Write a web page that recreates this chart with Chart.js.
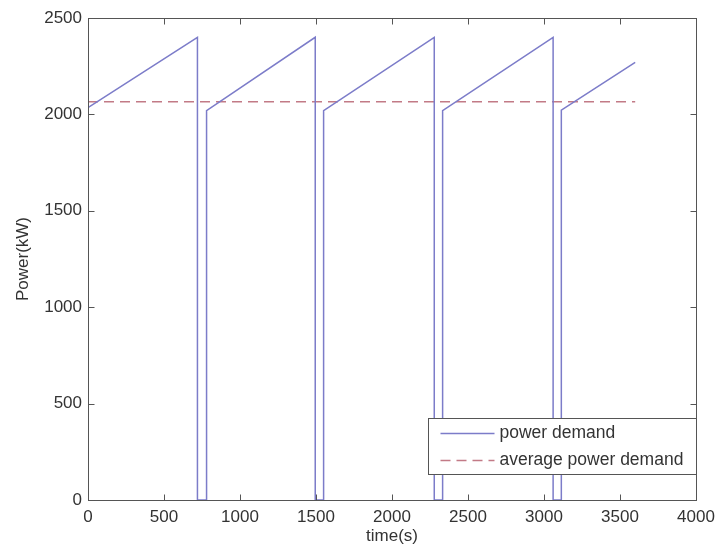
<!DOCTYPE html>
<html>
<head>
<meta charset="utf-8">
<script src="https://cdn.jsdelivr.net/npm/chart.js@4.4.1/dist/chart.umd.min.js"></script>
<style>
html, body { margin: 0; padding: 0; background: #fff; }
#wrap { width: 718px; height: 547px; }
</style>
</head>
<body>
<div id="wrap"><canvas id="powerChart"></canvas></div>
<script>
// values
const timeS = [0, 720, 720, 780, 780, 1495, 1495, 1550, 1550, 2278, 2278, 2333, 2333, 3060, 3060, 3114, 3114, 3600];
const powerKW = [2035, 2400, 0, 0, 2020, 2400, 0, 0, 2020, 2400, 0, 0, 2020, 2400, 0, 0, 2022, 2270];
const avgTimeS = [0, 3600];
const avgPowerKW = [2065, 2065];
const seriesNames = ['power demand', 'average power demand'];
const xTickValues = [0, 500, 1000, 1500, 2000, 2500, 3000, 3500, 4000];
const yTickValues = [0, 500, 1000, 1500, 2000, 2500];

const FONT = "'Liberation Sans', Arial, sans-serif";
const TEXT = '#333';

const toPoints = (xs, ys) => xs.map((x, i) => ({ x: x, y: ys[i] }));

// MATLAB-like box, inward ticks and legend
const matlabFrame = {
    id: 'matlabFrame',
    afterDatasetsDraw(chart) {
        const { ctx, chartArea: a, scales } = chart;
        ctx.save();
        ctx.strokeStyle = '#555';
        ctx.lineWidth = 1;
        const L = Math.round(a.left) + 0.5, R = Math.round(a.right) + 0.5;
        const T = Math.round(a.top) + 0.5, B = Math.round(a.bottom) + 0.5;
        ctx.strokeRect(L, T, R - L, B - T);
        ctx.beginPath();
        scales.x.ticks.forEach(t => {
            const px = Math.round(scales.x.getPixelForValue(t.value)) + 0.5;
            ctx.moveTo(px, B); ctx.lineTo(px, B - 6);
            ctx.moveTo(px, T); ctx.lineTo(px, T + 6);
        });
        scales.y.ticks.forEach(t => {
            const py = Math.round(scales.y.getPixelForValue(t.value)) + 0.5;
            ctx.moveTo(L, py); ctx.lineTo(L + 6, py);
            ctx.moveTo(R, py); ctx.lineTo(R - 6, py);
        });
        ctx.stroke();

        // legend box in lower right corner
        const w = 268, h = 56;
        const lx = R - w, ly = B - 26 - h;
        ctx.fillStyle = '#fff';
        ctx.fillRect(lx, ly, w, h);
        ctx.strokeRect(lx, ly, w, h);
        ctx.font = '17.5px ' + FONT;
        ctx.textBaseline = 'middle';
        chart.data.datasets.forEach((ds, i) => {
            const y = Math.round(ly + 14 + i * 27) + 0.5;
            ctx.beginPath();
            ctx.strokeStyle = ds.borderColor;
            ctx.lineWidth = ds.borderWidth;
            ctx.setLineDash(ds.borderDash || []);
            ctx.moveTo(lx + 12, y);
            ctx.lineTo(lx + 66, y);
            ctx.stroke();
            ctx.setLineDash([]);
            ctx.fillStyle = TEXT;
            ctx.fillText(ds.label, lx + 71, y);
        });
        ctx.restore();
    }
};

new Chart(document.getElementById('powerChart').getContext('2d'), {
    type: 'scatter',
    data: {
        datasets: [{
            label: seriesNames[0],
            data: toPoints(timeS, powerKW),
            showLine: true,
            borderColor: '#7c7cc9',
            borderWidth: 1.5,
            pointRadius: 0,
            tension: 0
        }, {
            label: seriesNames[1],
            data: toPoints(avgTimeS, avgPowerKW),
            showLine: true,
            borderColor: '#c27a86',
            borderWidth: 1.5,
            borderDash: [10, 6],
            pointRadius: 0
        }]
    },
    options: {
        responsive: true,
        maintainAspectRatio: false,
        animation: false,
        layout: { padding: { top: 18, right: 22, bottom: 0, left: 0 } },
        plugins: {
            legend: { display: false },
            tooltip: { enabled: false }
        },
        scales: {
            x: {
                type: 'linear',
                min: 0,
                max: 4000,
                afterBuildTicks: s => { s.ticks = xTickValues.map(v => ({ value: v })); },
                afterFit: s => { s.height = 47; s.paddingLeft = 0; s.paddingRight = 0; },
                grid: { display: false, drawTicks: false },
                border: { display: false },
                ticks: { color: TEXT, font: { family: FONT, size: 17 }, padding: 7, maxRotation: 0, callback: v => String(v) },
                title: { display: true, text: 'time(s)', color: TEXT, font: { family: FONT, size: 17 }, padding: { top: 0, bottom: 0 } }
            },
            y: {
                type: 'linear',
                min: 0,
                max: 2500,
                afterBuildTicks: s => { s.ticks = yTickValues.map(v => ({ value: v })); },
                afterFit: s => { s.width = 88; s.paddingTop = 0; s.paddingBottom = 0; },
                grid: { display: false, drawTicks: false },
                border: { display: false },
                ticks: { color: TEXT, font: { family: FONT, size: 17 }, padding: 6, callback: v => String(v) },
                title: { display: true, text: 'Power(kW)', color: TEXT, font: { family: FONT, size: 17 }, padding: { top: 13, bottom: 0 } }
            }
        }
    },
    plugins: [matlabFrame]
});
</script>
</body>
</html>
